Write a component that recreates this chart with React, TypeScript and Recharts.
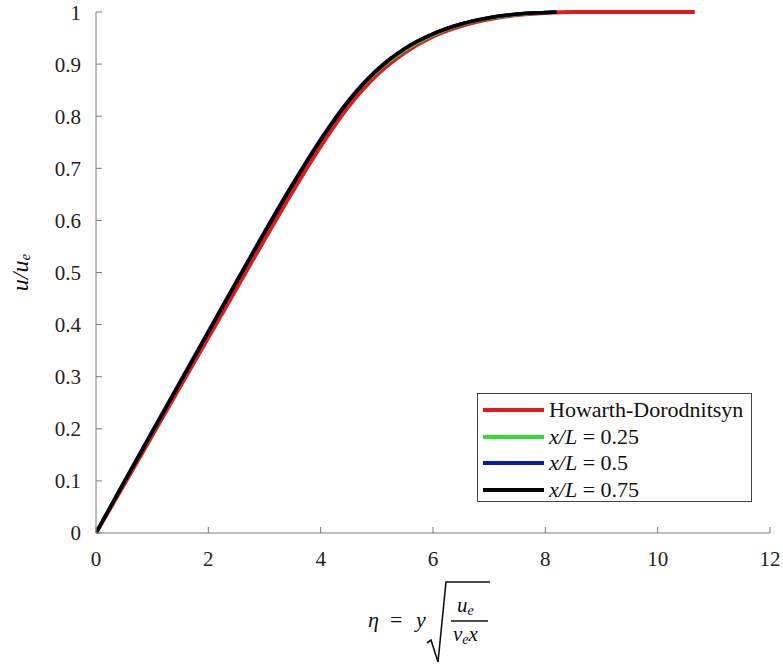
import {Legend, Line, LineChart, XAxis, YAxis} from "recharts";

// eta values and velocity ratios
const etaHD = [0, 0.5, 1, 1.5, 2, 2.5, 3, 3.5, 4, 4.5, 5, 5.5, 6, 6.5, 7, 7.5, 8, 8.5, 9, 9.5, 10, 10.66];
const uHD = [0, 0.093, 0.187, 0.281, 0.375, 0.469, 0.563, 0.655, 0.742, 0.819, 0.879, 0.922, 0.953, 0.973, 0.986, 0.994, 0.998, 1, 1, 1, 1, 1];

const etaXL = [0, 0.5, 1, 1.5, 2, 2.5, 3, 3.5, 4, 4.5, 5, 5.5, 6, 6.5, 7, 7.5, 8, 8.2];
const u025 = [0, 0.098, 0.194, 0.29, 0.386, 0.482, 0.577, 0.669, 0.755, 0.829, 0.886, 0.927, 0.956, 0.976, 0.988, 0.995, 0.999, 1];
const u050 = [0, 0.098, 0.195, 0.291, 0.387, 0.483, 0.578, 0.67, 0.756, 0.831, 0.889, 0.93, 0.958, 0.977, 0.989, 0.996, 0.999, 1];
const u075 = [0, 0.097, 0.193, 0.289, 0.385, 0.481, 0.576, 0.668, 0.754, 0.829, 0.888, 0.93, 0.958, 0.977, 0.989, 0.996, 0.999, 1];

const xTicks = [0, 2, 4, 6, 8, 10, 12];
const yTicks = [0, 0.1, 0.2, 0.3, 0.4, 0.5, 0.6, 0.7, 0.8, 0.9, 1];

const toPoints = (eta: number[], u: number[]) => eta.map((e, i) => ({eta: e, u: u[i]}));

const series = [
    {name: 'Howarth-Dorodnitsyn', data: toPoints(etaHD, uHD), color: '#e01b1f', width: 4},
    {name: 'x/L = 0.25', data: toPoints(etaXL, u025), color: '#2fe02f', width: 3.5},
    {name: 'x/L = 0.5', data: toPoints(etaXL, u050), color: '#0c18b0', width: 3.5},
    {name: 'x/L = 0.75', data: toPoints(etaXL, u075), color: '#000000', width: 3.5},
];

const serif = 'Liberation Serif, DejaVu Serif, serif';
const axisGray = '#7a7a7a';
const tickStyle = {fontFamily: serif, fontSize: 21, fill: '#222'};

function LegendBox({payload}: any) {
    return (
        <div style={{
            border: '1px solid #444', background: '#fff', width: 275, height: 109,
            padding: '3px 0 0 5px', boxSizing: 'border-box', fontFamily: serif, fontSize: 22, color: '#111',
        }}>
            {(payload || []).map((p: any) => {
                const label = String(p.value);
                const isXL = label.startsWith('x/L');
                return (
                    <div key={label} style={{display: 'flex', alignItems: 'center', height: 26.5}}>
                        <span style={{display: 'inline-block', width: 61, height: 4, background: p.color, marginRight: 5}}/>
                        {isXL ? (<span><i>x/L</i>{label.slice(3)}</span>) : label}
                    </div>
                );
            })}
        </div>
    );
}

function YLabel({viewBox}: any) {
    const cx = viewBox.x + 20;
    const cy = viewBox.y + viewBox.height / 2;
    return (
        <text x={cx} y={cy} transform={`rotate(-90, ${cx}, ${cy})`} textAnchor="middle" dominantBaseline="central"
              fontFamily={serif} fontSize={24} fontStyle="italic" fill="#111">
            u/u<tspan fontSize={15} dy={5}>e</tspan>
        </text>
    );
}

function XLabel({viewBox}: any) {
    const cx = viewBox.x + viewBox.width / 2;
    const top = viewBox.y;
    return (
        <g fontFamily={serif} fill="#111" fontSize={22}>
            <text x={cx - 65} y={top + 94} fontStyle="italic">η</text>
            <text x={cx - 43} y={top + 94}>=</text>
            <text x={cx - 17} y={top + 94} fontStyle="italic">y</text>
            <path d={`M ${cx - 6} ${top + 110} L ${cx - 2} ${top + 107} L ${cx + 5} ${top + 129} L ${cx + 13} ${top + 49} L ${cx + 57} ${top + 49}`}
                  stroke="#111" strokeWidth={1.6} fill="none"/>
            <text x={cx + 24} y={top + 79} fontSize={21} fontStyle="italic">
                u<tspan fontSize={14} dy={3}>e</tspan>
            </text>
            <line x1={cx + 18} x2={cx + 55} y1={top + 88} y2={top + 88} stroke="#111" strokeWidth={1.4}/>
            <text x={cx + 20} y={top + 108} fontSize={21} fontStyle="italic">
                ν<tspan fontSize={14} dy={3}>e</tspan><tspan fontSize={21} dy={-3}>x</tspan>
            </text>
        </g>
    );
}

export default function App() {
    return (
        <div style={{position: 'absolute', left: 0, top: 0, background: '#fff'}}>
            <LineChart width={783} height={665} margin={{top: 12, right: 13, bottom: 0, left: 0}}>
                <XAxis dataKey="eta" type="number" domain={[0, 12]} ticks={xTicks} allowDataOverflow
                       height={132} tickSize={-6} tickMargin={24} tick={tickStyle}
                       stroke={axisGray} tickLine={{stroke: axisGray}}
                       label={{content: (props: any) => <XLabel {...props}/>}}/>
                <XAxis xAxisId="top" orientation="top" dataKey="eta" type="number" domain={[0, 12]} ticks={xTicks}
                       height={0} tickSize={-6} tick={false} stroke={axisGray} tickLine={{stroke: axisGray}}/>
                <YAxis dataKey="u" type="number" domain={[0, 1]} ticks={yTicks} width={96}
                       tickSize={-6} tickMargin={21} tick={tickStyle}
                       stroke={axisGray} tickLine={{stroke: axisGray}}
                       label={{content: (props: any) => <YLabel {...props}/>}}/>
                <YAxis yAxisId="right" orientation="right" type="number" domain={[0, 1]} ticks={yTicks} width={0}
                       tickSize={-6} tick={false} stroke={axisGray} tickLine={{stroke: axisGray}}/>
                <Legend layout="vertical" align="center" verticalAlign="middle" content={<LegendBox/>}
                        wrapperStyle={{left: 477, top: 393, width: 275}}/>
                {series.map(s => (
                    <Line key={s.name} type="monotone" data={s.data} dataKey="u" name={s.name}
                          stroke={s.color} strokeWidth={s.width} dot={false} isAnimationActive={false}/>
                ))}
            </LineChart>
        </div>
    );
}
